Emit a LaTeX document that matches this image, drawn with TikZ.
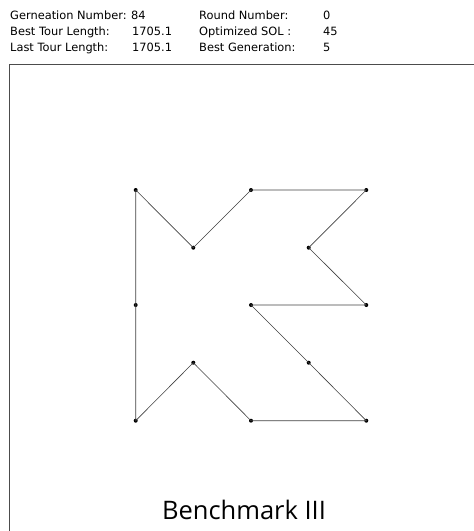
\documentclass[tikz,border=0pt]{standalone}
\usepackage{fontspec}
\setmainfont{DejaVu Sans}
\newfontfamily\titlefont{Open Sans}
\begin{document}
\begin{tikzpicture}[x=1pt,y=-1pt,
  city/.style={circle,fill=black,inner sep=0pt,minimum size=4pt},
  tour/.style={draw=black!75,line width=0.6pt},
  hdr/.style={anchor=base west,inner sep=0pt,font=\fontsize{11.4}{13}\selectfont},
  frameline/.style={draw=black!70,line width=1.2pt}]
\useasboundingbox (0,0) rectangle (474,531);
% frame
\coordinate (fbl) at (9.5,533);
\coordinate (ftl) at (9.5,64.5);
\coordinate (ftr) at (476,64.5);
\draw[frameline] (fbl) -- (ftl) -- (ftr);
% header
\node[hdr] (h1) at (10,19) {Gerneation Number:};
\node[hdr] (h1v) at (131,19) {84};
\node[hdr] (h2) at (10,35.5) {Best Tour Length:};
\node[hdr] (h2v) at (132,35.5) {1705.1};
\node[hdr] (h3) at (10,51.5) {Last Tour Length:};
\node[hdr] (h3v) at (132,51.5) {1705.1};
\node[hdr] (h4) at (199,19) {Round Number:};
\node[hdr] (h4v) at (323,19) {0};
\node[hdr] (h5) at (199,35.5) {Optimized SOL :};
\node[hdr] (h5v) at (323,35.5) {45};
\node[hdr] (h6) at (199,51.5) {Best Generation:};
\node[hdr] (h6v) at (323,51.5) {5};
% cities
\node[city] (c1) at (135.7,190) {};
\node[city] (c2) at (193.3,247.7) {};
\node[city] (c3) at (251,190) {};
\node[city] (c4) at (366.3,190) {};
\node[city] (c5) at (308.7,247.7) {};
\node[city] (c6) at (366.3,305) {};
\node[city] (c7) at (251,305) {};
\node[city] (c8) at (308.7,362.7) {};
\node[city] (c9) at (366.3,420.7) {};
\node[city] (c10) at (251,420.7) {};
\node[city] (c11) at (193.3,362.7) {};
\node[city] (c12) at (135.7,420.7) {};
\node[city] (c13) at (135.7,305) {};
\draw[tour] (c1.center) -- (c2.center) -- (c3.center) -- (c4.center) -- (c5.center) -- (c6.center) -- (c7.center) -- (c8.center) -- (c9.center) -- (c10.center) -- (c11.center) -- (c12.center) -- (c13.center) -- (c1.center);
% title
\node[inner sep=0pt,anchor=base,font=\titlefont\fontsize{25.5}{30}\selectfont] (title) at (244,519) {Benchmark III};
\end{tikzpicture}
\end{document}
